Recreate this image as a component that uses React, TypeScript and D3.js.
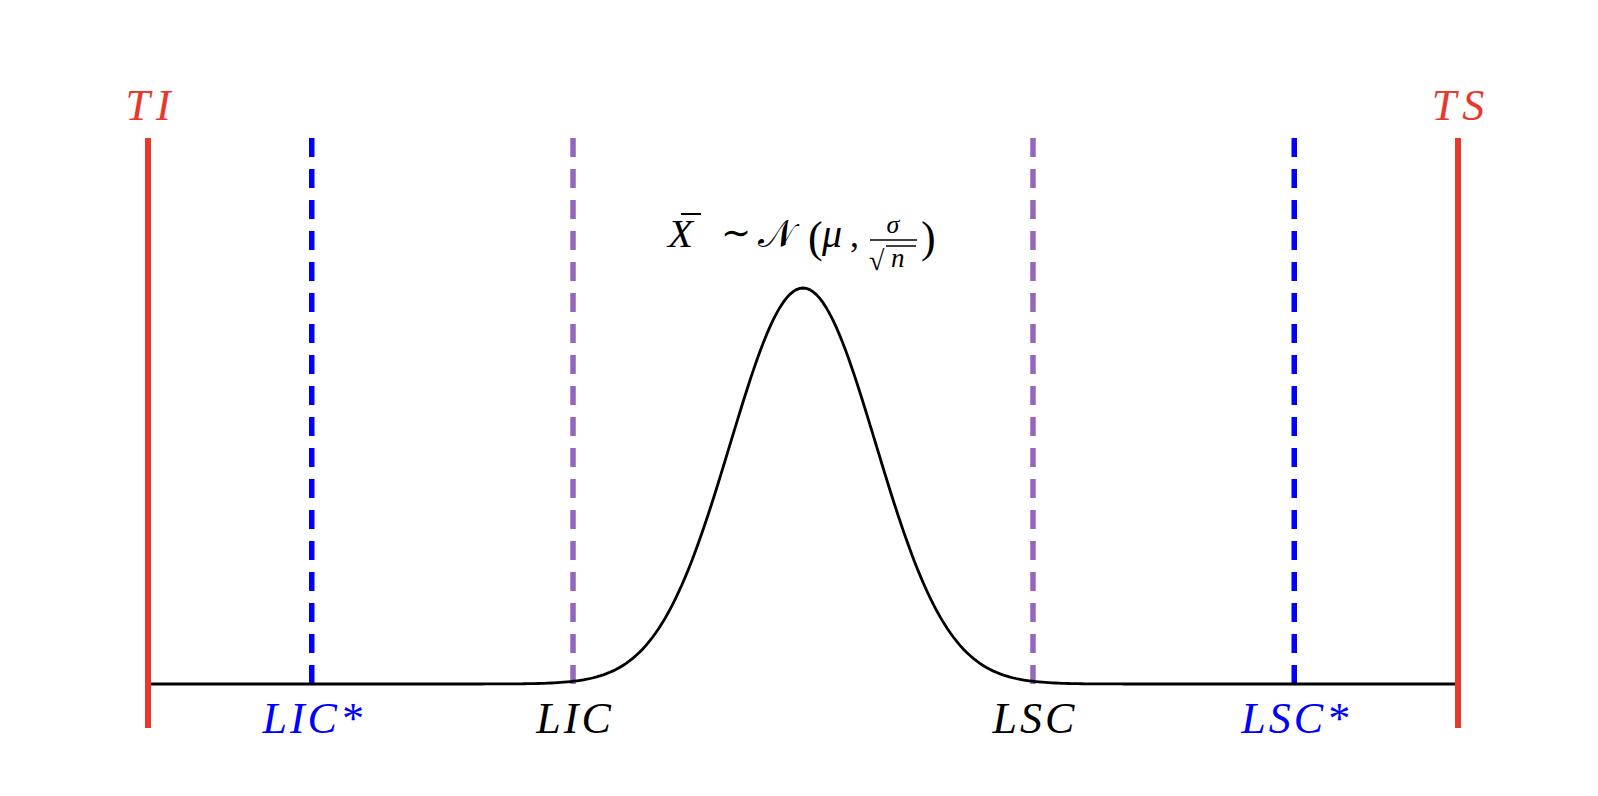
import React, { useEffect, useRef } from 'react';
import * as d3 from 'd3';

// distribution of the sample mean (in units of sigma / sqrt(n))
const mean = 0;
const sd = 1;
const xSpan = [-9, 9];
const sampleCount = 400;

// vertical limit lines
const toleranceLines = [
  { name: 'TI', x: -9 },
  { name: 'TS', x: 9 },
];
const controlLines = [
  { name: 'LIC*', x: -6.75, color: '#0000ff', label: '#0000ff' },
  { name: 'LIC', x: -3.16, color: '#9467bd', label: '#000000' },
  { name: 'LSC', x: 3.16, color: '#9467bd', label: '#000000' },
  { name: 'LSC*', x: 6.75, color: '#0000ff', label: '#0000ff' },
];

const W = 1598;
const H = 796;
const RED = '#e8382b';
const FONT = '"Liberation Serif", "DejaVu Serif", serif';

const App = () => {
  const svgRef = useRef<SVGSVGElement | null>(null);

  useEffect(() => {
    const svg = d3.select(svgRef.current);
    svg.selectAll('*').remove();

    const x = d3.scaleLinear().domain(xSpan).range([148, 1458]);
    const pdf = (v: number) => Math.exp(-0.5 * ((v - mean) / sd) ** 2) / (sd * Math.sqrt(2 * Math.PI));
    const peak = pdf(mean);
    const y = d3.scaleLinear().domain([0, peak]).range([684, 288]);

    const xs = d3.range(sampleCount + 1).map(i => xSpan[0] + (i / sampleCount) * (xSpan[1] - xSpan[0]));
    const curve = xs.map(v => [v, pdf(v)] as [number, number]);

    const lineTop = 138;
    const lineBottom = 728;

    // control limit lines (dashed)
    svg.selectAll('.ctl')
      .data(controlLines)
      .enter()
      .append('line')
      .attr('class', 'ctl')
      .attr('x1', d => x(d.x))
      .attr('x2', d => x(d.x))
      .attr('y1', lineTop)
      .attr('y2', y(0))
      .attr('stroke', d => d.color)
      .attr('stroke-width', 5.5)
      .attr('stroke-dasharray', '19 12');

    // density curve
    const line = d3.line<[number, number]>()
      .x(d => x(d[0]))
      .y(d => y(d[1]));

    svg.append('path')
      .datum(curve)
      .attr('fill', 'none')
      .attr('stroke', '#000')
      .attr('stroke-width', 2.8)
      .attr('d', line);

    // tolerance lines (solid red)
    svg.selectAll('.tol')
      .data(toleranceLines)
      .enter()
      .append('line')
      .attr('class', 'tol')
      .attr('x1', d => x(d.x))
      .attr('x2', d => x(d.x))
      .attr('y1', lineTop)
      .attr('y2', lineBottom)
      .attr('stroke', RED)
      .attr('stroke-width', 6);

    svg.selectAll('.tolLabel')
      .data(toleranceLines)
      .enter()
      .append('text')
      .attr('class', 'tolLabel')
      .attr('x', d => x(d.x) + 3)
      .attr('y', 120)
      .attr('text-anchor', 'middle')
      .attr('font-family', FONT)
      .attr('font-style', 'italic')
      .attr('font-size', 44)
      .attr('letter-spacing', 6)
      .attr('fill', RED)
      .text(d => d.name);

    svg.selectAll('.ctlLabel')
      .data(controlLines)
      .enter()
      .append('text')
      .attr('class', 'ctlLabel')
      .attr('x', d => x(d.x) + 2)
      .attr('y', 733)
      .attr('text-anchor', 'middle')
      .attr('font-family', FONT)
      .attr('font-style', 'italic')
      .attr('font-size', 44)
      .attr('letter-spacing', 3)
      .attr('fill', d => d.label)
      .text(d => d.name);

    // formula annotation above the peak
    const f = svg.append('g').attr('font-family', FONT).attr('fill', '#000');
    const base = 247;
    f.append('text').attr('x', 668).attr('y', base).attr('font-size', 41).attr('font-style', 'italic').text('X');
    f.append('line').attr('x1', 681).attr('x2', 701).attr('y1', 214).attr('y2', 214).attr('stroke', '#000').attr('stroke-width', 2);
    f.append('text').attr('x', 736).attr('y', base - 2).attr('font-size', 36).attr('text-anchor', 'middle').text('∼');
    f.append('text').attr('x', 758).attr('y', base).attr('font-size', 38).text('𝒩');
    f.append('text').attr('x', 808).attr('y', 252).attr('font-size', 44).text('(');
    f.append('text').attr('x', 822).attr('y', base).attr('font-size', 40).attr('font-style', 'italic').text('μ');
    f.append('text').attr('x', 850).attr('y', base).attr('font-size', 36).text(',');
    f.append('text').attr('x', 893).attr('y', 233).attr('font-size', 26).attr('font-style', 'italic').attr('text-anchor', 'middle').text('σ');
    f.append('line').attr('x1', 870).attr('x2', 917).attr('y1', 240).attr('y2', 240).attr('stroke', '#000').attr('stroke-width', 1.6);
    f.append('text').attr('x', 869).attr('y', 270).attr('font-size', 28).text('√');
    f.append('line').attr('x1', 886).attr('x2', 916).attr('y1', 246).attr('y2', 246).attr('stroke', '#000').attr('stroke-width', 1.5);
    f.append('text').attr('x', 891).attr('y', 267).attr('font-size', 27).attr('font-style', 'italic').text('n');
    f.append('text').attr('x', 921).attr('y', 252).attr('font-size', 44).text(')');
  }, []);

  return (
    <svg
      ref={svgRef}
      width={W}
      height={H}
      style={{ position: 'absolute', left: 0, top: 0, background: '#fff' }}
    />
  );
};

export default App;
